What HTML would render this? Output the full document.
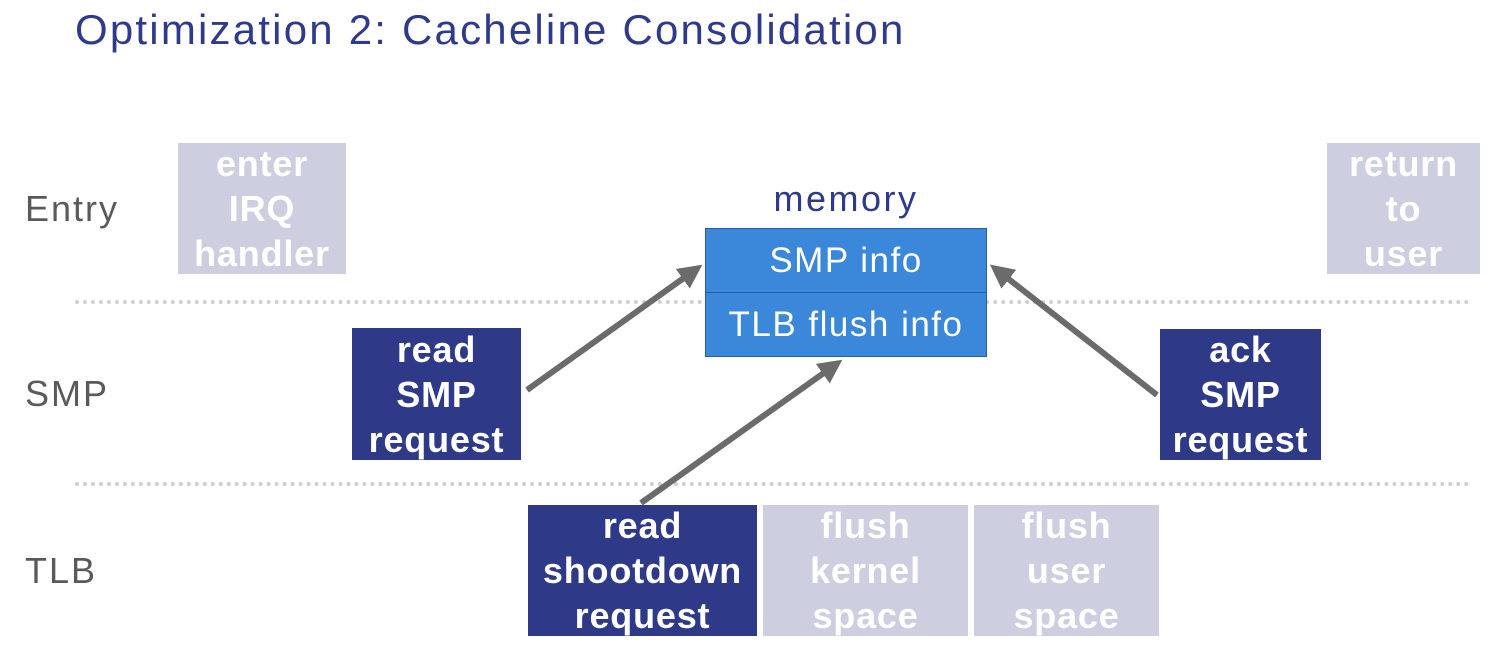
<!DOCTYPE html>
<html><head><meta charset="utf-8"><style>
body{margin:0;width:1500px;height:651px;background:#fff;position:relative;overflow:hidden;font-family:"Liberation Sans",sans-serif}
.t{position:absolute;left:75px;top:6px;font-size:42px;color:#2f3a8c;white-space:nowrap;letter-spacing:2.2px}
.lab{position:absolute;font-size:36px;color:#5a5a5a;letter-spacing:2px}
.b{position:absolute;display:flex;align-items:center;justify-content:center;text-align:center;color:#fff;font-weight:bold;font-size:36px;line-height:45px;letter-spacing:0.8px}
.g{background:#cdcee0}
.d{background:#2e3a87}
.dot{position:absolute;left:75px;width:1395px;border-top:4px dotted #cfcfcf}
.m{position:absolute;left:705px;width:282px;background:#3b87d9;color:#fff;font-size:35px;display:flex;align-items:center;justify-content:center;border:1px solid #2a5d9a;box-sizing:border-box;letter-spacing:1.5px}
</style></head><body>
<div class="t">Optimization 2: Cacheline Consolidation</div>
<div class="lab" style="left:25px;top:188px">Entry</div>
<div class="lab" style="left:25px;top:373px">SMP</div>
<div class="lab" style="left:25px;top:550px">TLB</div>
<div class="dot" style="top:300px"></div>
<div class="dot" style="top:482px"></div>
<div class="b g" style="left:178px;top:143px;width:168px;height:131px">enter<br>IRQ<br>handler</div>
<div class="b g" style="left:1327px;top:143px;width:153px;height:131px">return<br>to<br>user</div>
<div style="position:absolute;left:705px;width:282px;top:178px;text-align:center;font-size:36px;color:#2f3a8c;letter-spacing:2.5px">memory</div>
<div class="m" style="top:228px;height:65px">SMP info</div>
<div class="m" style="top:292px;height:65px">TLB flush info</div>
<div class="b d" style="left:352px;top:328px;width:169px;height:132px">read<br>SMP<br>request</div>
<div class="b d" style="left:1160px;top:329px;width:161px;height:131px">ack<br>SMP<br>request</div>
<div class="b d" style="left:528px;top:505px;width:229px;height:131px">read<br>shootdown<br>request</div>
<div class="b g" style="left:763px;top:505px;width:205px;height:131px">flush<br>kernel<br>space</div>
<div class="b g" style="left:974px;top:505px;width:185px;height:131px">flush<br>user<br>space</div>
<svg width="1500" height="651" style="position:absolute;left:0;top:0">
<defs><marker id="a" markerWidth="4" markerHeight="4" refX="2.5" refY="2" orient="auto"><path d="M0,0L4,2L0,4z" fill="#6b6b6b"/></marker></defs>
<g stroke="#6b6b6b" stroke-width="6" marker-end="url(#a)">
<line x1="527" y1="390" x2="695" y2="270"/>
<line x1="1157" y1="395" x2="997" y2="270"/>
<line x1="641" y1="503" x2="835" y2="365"/>
</g></svg>
</body></html>
